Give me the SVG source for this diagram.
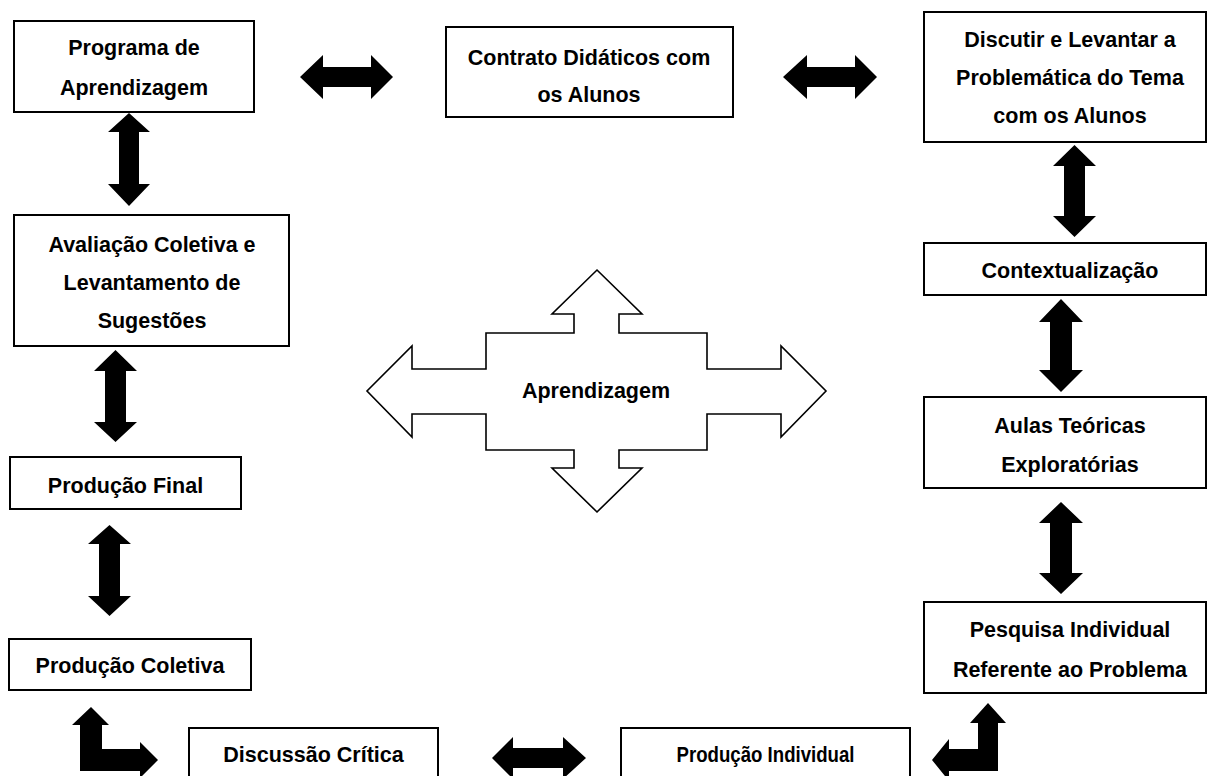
<svg xmlns="http://www.w3.org/2000/svg" width="1208" height="776" viewBox="0 0 1208 776">
<style>
.box{fill:#fff;stroke:#000;stroke-width:2}
.t{font-family:"Liberation Sans",Arial,sans-serif;font-weight:bold;font-size:21.5px;fill:#000;text-anchor:middle}
.arr{fill:#000;stroke:none}
.big{fill:#fff;stroke:#000;stroke-width:1.6;stroke-linejoin:miter}
</style>
<rect width="1208" height="776" fill="#fff"/>
<g id="connectors">
<polygon class="arr" points="300,77 323,55 323,67 371,67 371,55 393,77 371,99 371,87 323,87 323,99"/>
<polygon class="arr" points="783,77 807,55 807,67 855,67 855,55 877,77 855,99 855,87 807,87 807,99"/>
<polygon class="arr" points="492,758 513,737 513,748 563,748 563,737 586,758 563,779 563,768 513,768 513,779"/>
<polygon class="arr" points="129,113 150,132 139,132 139,184 150,184 129,206 108,184 119,184 119,132 108,132"/>
<polygon class="arr" points="115.5,350 137,371 126,371 126,422 137,422 115.5,442 94,422 105,422 105,371 94,371"/>
<polygon class="arr" points="109.5,525 131,544 120,544 120,596 131,596 109.5,616 88,596 99,596 99,544 88,544"/>
<polygon class="arr" points="1074.5,145 1096,166 1085,166 1085,216 1096,216 1074.5,237 1053,216 1064,216 1064,166 1053,166"/>
<polygon class="arr" points="1061,299 1083,322 1072,322 1072,370 1083,370 1061,392 1039,370 1050,370 1050,322 1039,322"/>
<polygon class="arr" points="1061,502 1083,523 1072,523 1072,573 1083,573 1061,594 1039,573 1050,573 1050,523 1039,523"/>
<polygon class="arr" points="91,707 109,725 102,725 102,749 140,749 140,742 158,760 140,778 140,771 80,771 80,725 72,725"/>
<polygon class="arr" points="988,703 1006,723 998,723 998,771 949,771 949,781 932,760 949,739 949,749 978,749 978,723 970,723"/>
</g>
<g id="n-programa"><rect class="box" x="14" y="21" width="240" height="91"/><text class="t" x="134" y="55">Programa de</text><text class="t" x="134" y="95">Aprendizagem</text></g>
<g id="n-contrato"><rect class="box" x="446" y="27" width="287" height="90"/><text class="t" x="589" y="65">Contrato Didáticos com</text><text class="t" x="589" y="102">os Alunos</text></g>
<g id="n-discutir"><rect class="box" x="924" y="12" width="282" height="130"/><text class="t" x="1070" y="47">Discutir e Levantar a</text><text class="t" x="1070" y="85">Problemática do Tema</text><text class="t" x="1070" y="123">com os Alunos</text></g>
<g id="n-context"><rect class="box" x="924" y="243" width="282" height="52"/><text class="t" x="1070" y="278">Contextualização</text></g>
<g id="n-aulas"><rect class="box" x="924" y="397" width="282" height="91"/><text class="t" x="1070" y="433">Aulas Teóricas</text><text class="t" x="1070" y="472">Exploratórias</text></g>
<g id="n-pesquisa"><rect class="box" x="924" y="602" width="282" height="91"/><text class="t" x="1070" y="637">Pesquisa Individual</text><text class="t" x="1070" y="677">Referente ao Problema</text></g>
<g id="n-avaliacao"><rect class="box" x="14" y="215" width="275" height="131"/><text class="t" x="152" y="252">Avaliação Coletiva e</text><text class="t" x="152" y="290">Levantamento de</text><text class="t" x="152" y="328">Sugestões</text></g>
<g id="n-final"><rect class="box" x="10" y="457" width="231" height="52"/><text class="t" x="125.5" y="493">Produção Final</text></g>
<g id="n-coletiva"><rect class="box" x="9" y="639" width="242" height="51"/><text class="t" x="130" y="673">Produção Coletiva</text></g>
<g id="n-discussao"><rect class="box" x="189" y="728" width="249" height="60"/><text class="t" x="313.5" y="762">Discussão Crítica</text></g>
<g id="n-individual"><rect class="box" x="621" y="728" width="289" height="60"/><text class="t" x="765.5" y="762" textLength="178" lengthAdjust="spacingAndGlyphs">Produção Individual</text></g>
<g id="n-aprendizagem"><polygon class="big" points="597,270 642,314 619,314 619,333 707,333 707,369 781,369 781,346 826,391 781,437 781,414 707,414 707,450 619,450 619,468 642,468 597,512 552,468 574,468 574,450 486,450 486,414 412,414 412,437 367,391 412,346 412,369 486,369 486,333 574,333 574,314 552,314"/><text class="t" x="596" y="398">Aprendizagem</text></g>
</svg>
